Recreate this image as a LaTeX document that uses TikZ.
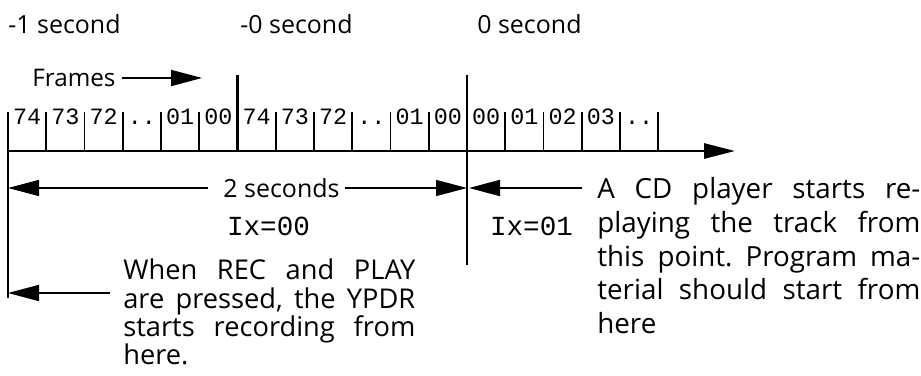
\documentclass[tikz,border=0pt]{standalone}
\usepackage{fontspec}
\setmainfont{Open Sans}
\setmonofont{Liberation Mono}
\usetikzlibrary{arrows.meta}

\tikzset{
  axis/.style={line width=1.6pt},
  tick/.style={line width=1.1pt},
  shaft/.style={line width=1.1pt,-{Triangle[length=0.62cm,width=0.32cm]}},
  cellnum/.style={anchor=base,inner sep=0pt,font=\fontsize{13.3}{14}\selectfont\ttfamily},
  timetext/.style={inner sep=0pt,font=\fontsize{14.2}{17}\selectfont},
  indexcode/.style={inner sep=0pt,font=\fontsize{15.7}{17}\selectfont\ttfamily},
}

\begin{document}
\begin{tikzpicture}
  \useasboundingbox (0,0) rectangle (18.42,7.5);

% SECOND MARKS ================================================================
  \node[timetext,anchor=west] (minusone) at (0.16,7.02) {-1 second};
  \node[timetext,anchor=west] (minuszero) at (4.80,7.02) {-0 second};
  \node[timetext,anchor=west] (zero) at (9.54,7.02) {0 second};

% FRAME CELLS =================================================================
  \node[timetext,anchor=west,font=\fontsize{13.8}{16}\selectfont] (frames) at (0.64,5.94) {Frames};
  \coordinate (framestip) at (4.04,5.94);
  \draw[shaft] (frames.east) ++(0.12,0) -- (framestip);

  \foreach \x in {0,...,17} {
    \draw[tick] (0.16+0.765*\x,4.48) to (0.16+0.765*\x,5.26);
  }
  \foreach \num [count=\i from 0] in {74,73,72,{..},01,00,74,73,72,{..},01,00,00,01,02,03,{..}} {
    \node[cellnum] (cell\i) at (0.5425+0.765*\i,5.02) {\num};
  }

% TIME LINE ===================================================================
  \coordinate (linestart) at (0.16,4.48);
  \coordinate (lineend) at (14.7,4.48);
  \draw[axis,-{Triangle[length=0.62cm,width=0.3cm]}] (linestart) -- (lineend);

  \draw[axis] (0.16,1.54) to (0.16,5.26); % recording start
  \draw[axis] (4.75,4.48) to (4.75,6.00); % -0 second
  \draw[axis] (9.34,2.20) to (9.34,6.00); % 0 second

% TWO SECONDS =================================================================
  \node[timetext] (twosec) at (5.63,3.74) {2 seconds};
  \coordinate (twoleft) at (0.16,3.74);
  \coordinate (tworight) at (9.34,3.74);
  \draw[shaft,line width=0.85pt,shorten <=0.3cm] (twosec.west) -- (twoleft);
  \draw[shaft,line width=0.85pt,shorten <=0.1cm] (twosec.east) -- (tworight);

  \node[indexcode] (ixzero) at (5.37,2.98) {Ix=00};
  \node[indexcode] (ixone) at (10.63,2.98) {Ix=01};

% NOTES =======================================================================
  \coordinate (cdstart) at (11.64,3.74);
  \coordinate (cdtip) at (9.38,3.74);
  \draw[shaft] (cdstart) -- (cdtip);
  \node[anchor=north west,inner sep=0pt,text width=6.46cm,align=justify,
        font=\fontsize{15.8}{19.1}\selectfont\frenchspacing] (cdnote) at (11.94,3.95)
    {A CD player starts re-\linebreak playing the track from\linebreak this point. Program ma-\linebreak terial should start from\linebreak here};

  \coordinate (recstart) at (2.20,1.64);
  \coordinate (rectip) at (0.16,1.64);
  \draw[shaft] (recstart) -- (rectip);
  \node[anchor=north west,inner sep=0pt,text width=5.84cm,align=justify,
        font=\fontsize{15.5}{16.2}\selectfont\frenchspacing] (recnote) at (2.46,2.33)
    {When REC and PLAY\linebreak are pressed, the YPDR\linebreak starts recording from\linebreak here.};

\end{tikzpicture}
\end{document}
